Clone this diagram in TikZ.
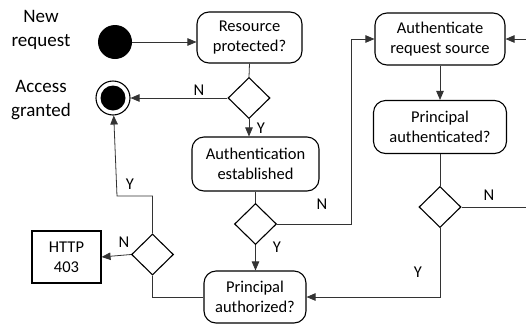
\documentclass[tikz,border=0pt]{standalone}
\usepackage{fontspec}
\setmainfont{Carlito}
\usetikzlibrary{shapes.geometric,arrows.meta}
\begin{document}
\begin{tikzpicture}[x=1pt,y=-1pt,
  font=\fontsize{16.5}{20}\selectfont,
  act/.style={draw, rounded corners=12pt, align=center, line width=1.1pt, inner sep=0pt},
  dec/.style={draw, diamond, minimum width=42pt, minimum height=41pt, inner sep=0pt, line width=1.1pt},
  line/.style={line width=0.8pt, draw=black!80},
  conn/.style={line, -{Triangle[length=9pt,width=7.5pt]}},
  lbl/.style={inner sep=0pt}]
\useasboundingbox (0,0) rectangle (526,327);
% side labels
\node[lbl, align=center, font=\fontsize{19}{24}\selectfont] (newreq) at (41,30) {New\\request};
\node[lbl, align=center, font=\fontsize{19}{24}\selectfont] (accgr) at (41,100) {Access\\granted};
% start and end
\node[circle, fill=black, minimum size=34pt, inner sep=0pt] (start) at (115,42) {};
\node[circle, draw, line width=1.1pt, minimum size=34pt, inner sep=0pt,
  path picture={\fill (path picture bounding box.center) circle (12.5pt);}] (endc) at (113,98) {};
% activities
\node[act, minimum width=105pt, minimum height=51pt] (res) at (249.5,37.5) {Resource\\protected?};
\node[act, minimum width=130pt, minimum height=52pt] (arsrc) at (440,39) {Authenticate\\request source};
\node[act, minimum width=127pt, minimum height=54pt] (auth) at (255.5,164) {Authentication\\established};
\node[act, minimum width=133pt, minimum height=53pt] (pauthn) at (440,127) {Principal\\authenticated?};
\node[act, minimum width=102pt, minimum height=52pt] (pauthz) at (255,297) {Principal\\authorized?};
\node[draw, line width=1.1pt, minimum width=69pt, minimum height=52pt, align=center, inner sep=0pt] (http) at (66.5,257) {HTTP\\403};
% decisions
\node[dec] (d1) at (249,98) {};
\node[dec] (d2) at (255.5,224) {};
\node[dec] (d3) at (152.5,254.5) {};
\node[dec] (d4) at (440,207) {};
% helper coordinates
\coordinate (jx) at (351,0);
\coordinate (jy) at (117,196);
\coordinate (redge1) at (526,207);
\coordinate (redge2) at (526,39);
% connectors
\draw[conn] (start) -- (start -| res.west);
\draw[line] (res.south) -- (d1.north);
\draw[conn] (d1.west) -- (endc);
\node[lbl] (n1) at (199,90) {N};
\draw[conn] (d1.south) -- (d1.south |- auth.north);
\node[lbl] (y1) at (261,128) {Y};
\draw[line] (auth.south) -- (d2.north);
\draw[conn] (d2.south) -- (d2.south |- pauthz.north);
\node[lbl] (y2) at (277,247) {Y};
\draw[conn] (d2.east) -| (jx |- arsrc.west) -- (arsrc.west);
\node[lbl] (n2) at (322,204) {N};
\draw[conn] (arsrc.south) -- (pauthn.north);
\draw[line] (pauthn.south) -- (d4.north);
\draw[line] (d4.east) -- (redge1);
\node[lbl] (n4) at (489,195) {N};
\draw[conn] (redge2) -- (arsrc.east);
\draw[conn] (d4.south) |- (pauthz.east);
\node[lbl] (y4) at (418,272) {Y};
\draw[line] (pauthz.west) -| (d3.south);
\draw[conn] (d3.west) -- (http.east);
\node[lbl] (n3) at (124,242) {N};
\draw[conn] (d3.north) |- (jy) -- (endc);
\node[lbl] (y3) at (130,184) {Y};
\end{tikzpicture}
\end{document}
